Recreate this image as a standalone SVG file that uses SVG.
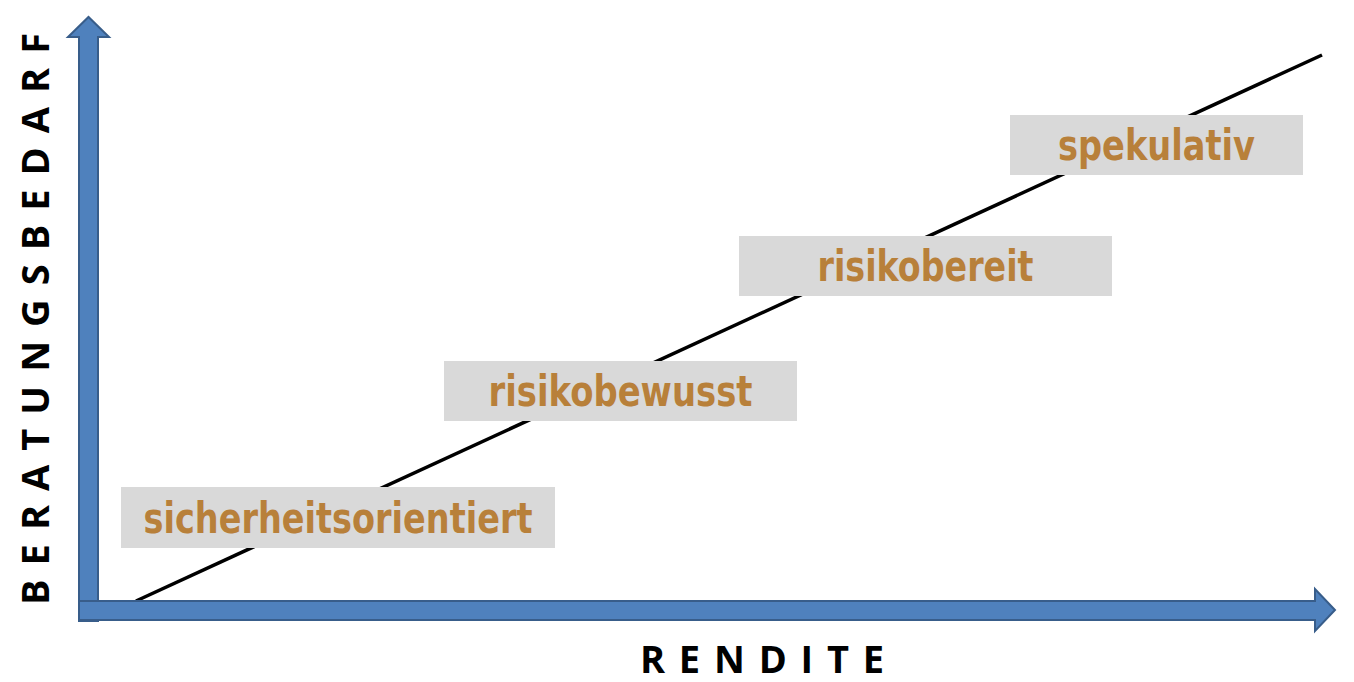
<svg xmlns="http://www.w3.org/2000/svg" width="1354" height="682" viewBox="0 0 1354 682">
<style>
.axis{fill:#4F81BD;stroke:#385D8A;stroke-width:2;stroke-linejoin:miter}
.box{fill:#D9D9D9}
.lbl{font-family:"DejaVu Sans",Verdana,sans-serif;font-weight:bold;font-size:43px;fill:#B8803A;text-anchor:middle}
.ax{font-family:"Open Sans","Liberation Sans",sans-serif;font-weight:bold;font-size:38px;fill:#000}
</style>
<rect width="1354" height="682" fill="#fff"/>
<g id="connectors">
<line x1="136" y1="601" x2="1322" y2="55" stroke="#000" stroke-width="3.5"/>
</g>
<g id="y-axis">
<polygon class="axis" points="79,621 79,37 68,37 88.5,17 109,37 98,37 98,621"/>
</g>
<g id="x-axis">
<polygon class="axis" points="79,601 1315,601 1315,589 1335,610 1315,631 1315,620 79,620"/>
</g>
<g id="node-sicherheitsorientiert">
<rect class="box" x="121" y="487" width="434" height="61"/>
<text class="lbl" x="338" y="533" textLength="389" lengthAdjust="spacingAndGlyphs">sicherheitsorientiert</text>
</g>
<g id="node-risikobewusst">
<rect class="box" x="444" y="361" width="353" height="60"/>
<text class="lbl" x="620.5" y="406" textLength="264" lengthAdjust="spacingAndGlyphs">risikobewusst</text>
</g>
<g id="node-risikobereit">
<rect class="box" x="739" y="236" width="373" height="60"/>
<text class="lbl" x="925.5" y="281" textLength="216" lengthAdjust="spacingAndGlyphs">risikobereit</text>
</g>
<g id="node-spekulativ">
<rect class="box" x="1010" y="115" width="293" height="60"/>
<text class="lbl" x="1156.5" y="160" textLength="197" lengthAdjust="spacingAndGlyphs">spekulativ</text>
</g>
<g id="label-rendite">
<text class="ax" x="640" y="673" textLength="244" lengthAdjust="spacing">RENDITE</text>
</g>
<g id="label-beratungsbedarf">
<text class="ax" transform="translate(49,605) rotate(-90)" x="0" y="0" textLength="572" lengthAdjust="spacing">BERATUNGSBEDARF</text>
</g>
</svg>
